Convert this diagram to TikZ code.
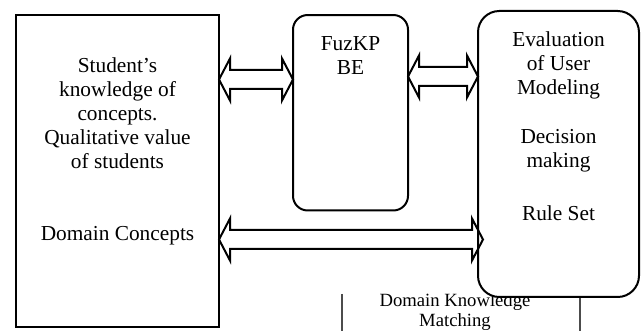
\documentclass[tikz,border=0pt]{standalone}
\usepackage{fontspec}
\setmainfont{Liberation Serif}
\usetikzlibrary{calc}
\newcommand{\dblarrow}[2]{\draw[blk] (#1) -- ++(11,-21) -- ++(0,11.5) -- ($(#2)+(-11,-9.5)$) -- ++(0,-11.5) -- (#2) -- ++(-11,21) -- ++(0,-11.5) -- ($(#1)+(11,9.5)$) -- ++(0,11.5) -- cycle;}

\begin{document}
\begin{tikzpicture}[x=0.75pt,y=-0.75pt,
    box/.style={draw,line width=1.5pt,fill=white,inner sep=0pt,outer sep=0pt},
    rbox/.style={box,rounded corners=#1},
    txt/.style={align=center,font=\fontsize{16}{18}\selectfont},
    blk/.style={line width=1.5pt,line join=miter},
    ]
    \useasboundingbox (0,0) rectangle (643,331);
    % matching block, partly under the boxes
    \draw[black!70,line width=1pt] (342,294) -- (342,331) (580,297) -- (580,331);
    \node[align=center,font=\fontsize{14}{15}\selectfont] (match) at (455,312) {Domain Knowledge\\Matching};
    % boxes
    \node[box,minimum width=152.25pt,minimum height=234pt] (student) at (117.5,171) {};
    \node[rbox=11pt,minimum width=86.25pt,minimum height=146.6pt] (fuzkp) at (350.5,112.75) {};
    \node[rbox=16pt,minimum width=120.75pt,minimum height=214.5pt] (eval) at (558.5,154) {};
    % texts
    \node[txt] (know) at (117.5,113.5) {Student's\\knowledge of\\concepts.\\Qualitative value\\of students};
    \node[txt] (dom) at (117.5,236) {Domain Concepts};
    \node[txt] (fuzname) at (350.5,55.5) {FuzKP\\BE};
    \node[txt] (evalname) at (558.5,65) {Evaluation\\of User\\Modeling};
    \node[txt] (dec) at (558.5,150.5) {Decision\\making};
    \node[txt] (rules) at (558.5,213) {Rule Set};
    % arrows
    \coordinate (a1) at (student.east |- 0,79.5);
    \coordinate (b1) at (fuzkp.west |- 0,79.5);
    \coordinate (a2) at (fuzkp.east |- 0,76.5);
    \coordinate (b2) at (eval.west |- 0,76.5);
    \coordinate (a3) at (student.east |- 0,239.5);
    \coordinate (b3) at ($(eval.west |- 0,239.5)+(5,0)$);
    \dblarrow{a1}{b1}
    \dblarrow{a2}{b2}
    \dblarrow{a3}{b3}
  \end{tikzpicture}
\end{document}
